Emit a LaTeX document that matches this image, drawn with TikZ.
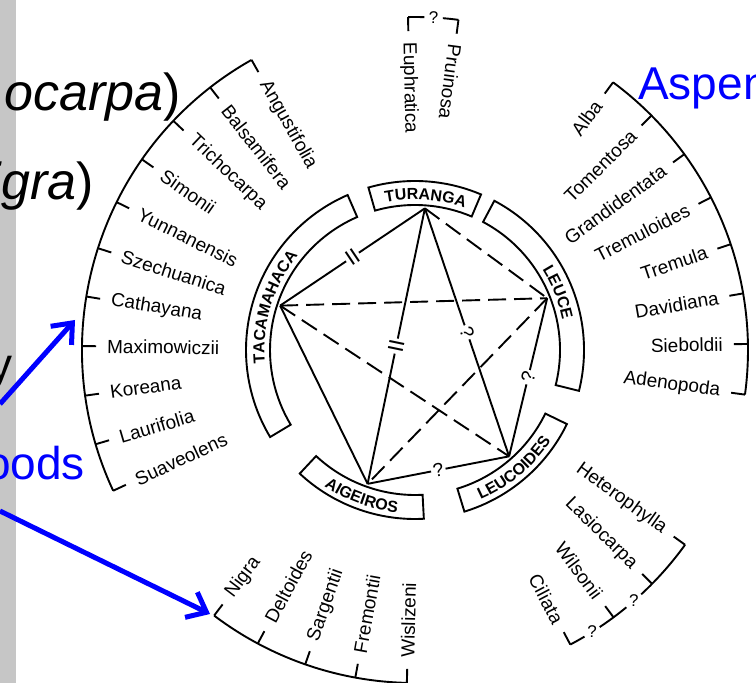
\documentclass[tikz,border=0pt]{standalone}
\usepackage{fontspec}
\setmainfont{Liberation Sans}
\usetikzlibrary{decorations.text,arrows.meta}
\definecolor{slideblue}{RGB}{0,0,255}
\definecolor{bark}{RGB}{198,198,198}
\newcommand\boxfont{\fontsize{16}{17}\selectfont\bfseries}
\begin{document}
\begin{tikzpicture}[x=1pt,y=1pt,
  ln/.style={line width=1.9pt},
  br/.style={line width=1.9pt},
  lab/.style={font=\fontsize{19}{20}\selectfont, inner sep=0pt},
  qmark/.style={font=\fontsize{19}{20}\selectfont, inner sep=2pt, fill=white},
  eqmark/.style={font=\fontsize{22}{23}\selectfont, inner sep=1.5pt, fill=white},
  qq/.style={font=\fontsize{17}{18}\selectfont, inner sep=0pt},
  dsh/.style={line width=1.9pt, dash pattern=on 18pt off 8pt},
  big/.style={font=\fontsize{46}{50}\selectfont, inner sep=0pt},
  bigger/.style={font=\fontsize{52}{56}\selectfont, inner sep=0pt},
  barrow/.style={slideblue, line width=5pt, -{Straight Barb[length=17pt,width=28pt]}}
]
\useasboundingbox (0,0) rectangle (756,683);
\clip (0,0) rectangle (756,683);
\fill[bark] (0,0) rectangle (16,683);

\begin{scope}[shift={(415,333)}]
% ---- section boxes
\draw[br] (67:145) arc[start angle=67,end angle=106,radius=145] -- (106:169) arc[start angle=106,end angle=67,radius=169] -- cycle;
\draw[br] (-14:145) arc[start angle=-14,end angle=62,radius=145] -- (62:169) arc[start angle=62,end angle=-14,radius=169] -- cycle;
\draw[br] (-73:145) arc[start angle=-73,end angle=-26,radius=145] -- (-26:169) arc[start angle=-26,end angle=-73,radius=169] -- cycle;
\draw[br] (-133:145) arc[start angle=-133,end angle=-87,radius=145] -- (-87:169) arc[start angle=-87,end angle=-133,radius=169] -- cycle;
\draw[br] (113.5:145) arc[start angle=113.5,end angle=211,radius=145] -- (211:169) arc[start angle=211,end angle=113.5,radius=169] -- cycle;
% ---- box labels
\path[decorate,decoration={text along path,text align=center,text={|\boxfont|TURANGA}}] (100:150.5) arc[start angle=100,end angle=72,radius=150.5];
\path[decorate,decoration={text along path,text align=center,text={|\boxfont|LEUCE}}] (50:150.5) arc[start angle=50,end angle=-6,radius=150.5];
\path[decorate,decoration={text along path,text align=center,text={|\boxfont|TACAMAHACA}}] (200:150.5) arc[start angle=200,end angle=126,radius=150.5];
\path[decorate,decoration={text along path,text align=center,text={|\boxfont|AIGEIROS}}] (-135:163.5) arc[start angle=-135,end angle=-85,radius=163.5];
\path[decorate,decoration={text along path,text align=center,text={|\boxfont|LEUCOIDES}}] (-75:163.5) arc[start angle=-75,end angle=-25,radius=163.5];
% ---- vertices
\coordinate (vT) at (86:142);
\coordinate (vL) at (21.4:142);
\coordinate (vD) at (-48.5:142);
\coordinate (vA) at (-109.5:142);
\coordinate (vC) at (161.8:142);
% ---- connectors
\draw[ln] (vT) -- node[eqmark,sloped] (m1) {II} (vC);
\draw[ln] (vT) -- node[eqmark,sloped] (m2) {II} (vA);
\draw[ln] (vT) -- node[qmark,sloped] (m3) {?} (vD);
\draw[dsh] (vT) -- (vL);
\draw[dsh] (vC) -- (vL);
\draw[dsh] (vC) -- (vD);
\draw[ln] (vC) -- (vA);
\draw[dsh] (vL) -- (vA);
\draw[ln] (vL) -- node[qmark,sloped] (m4) {?} (vD);
\draw[ln] (vA) -- node[qmark,sloped] (m5) {?} (vD);
% ---- left bracket (Tacamahaca)
\draw[br] (119.4:333) arc[start angle=119.4,end angle=205,radius=333];
\foreach \n [count=\i from 0] in {Angustifolia,Balsamifera,Trichocarpa,Simonii,Yunnanensis,Szechuanica,Cathayana,Maximowiczii,Koreana,Laurifolia,Suaveolens}{
  \pgfmathsetmacro\a{119.4+8.56*\i}
  \pgfmathsetmacro\r{\a+180}
  \draw[br] (\a:333) -- (\a:319);
  \node[lab,anchor=west,rotate=\r] (tc\i) at (\a:308) {\n};
}
% ---- right bracket (Leuce)
\draw[br] (53.5:333) arc[start angle=53.5,end angle=-7.7,radius=333];
\foreach \n [count=\i from 0] in {Alba,Tomentosa,Grandidentata,Tremuloides,Tremula,Davidiana,Sieboldii,Adenopoda}{
  \pgfmathsetmacro\a{53.5-8.743*\i}
  \draw[br] (\a:333) -- (\a:319);
  \node[lab,anchor=east,rotate=\a] (le\i) at (\a:308) {\n};
}
% ---- bottom bracket (Aigeiros)
\draw[br] (-127.1:333) arc[start angle=-127.1,end angle=-91.4,radius=333];
\foreach \n [count=\i from 0] in {Nigra,Deltoides,Sargentii,Fremontii,Wislizeni}{
  \pgfmathsetmacro\a{-127.1+8.925*\i}
  \pgfmathsetmacro\r{\a+180}
  \draw[br] (\a:333) -- (\a:319);
  \node[lab,anchor=west,rotate=\r] (ai\i) at (\a:308) {\n};
}
% ---- Leucoides bracket
\draw[br] (-35.8:333) arc[start angle=-35.8,end angle=-47.2,radius=333];
\draw[br] (-50.6:333) arc[start angle=-50.6,end angle=-56.3,radius=333];
\draw[br] (-59.4:333) arc[start angle=-59.4,end angle=-62.2,radius=333];
\node[qq] (qd1) at (-48.9:333) {?};
\node[qq] (qd2) at (-57.85:333) {?};
\foreach \n [count=\i from 0] in {Heterophylla,Lasiocarpa,Wilsonii,Ciliata}{
  \pgfmathsetmacro\a{-35.8-8.8*\i}
  \draw[br] (\a:333) -- (\a:319);
  \node[lab,anchor=east,rotate=\a] (ld\i) at (\a:308) {\n};
}
% ---- Turanga bracket
\draw[br] (91.2:333) arc[start angle=91.2,end angle=88.4,radius=333];
\draw[br] (85.2:333) arc[start angle=85.2,end angle=82.5,radius=333];
\node[qq] (qt) at (86.8:333) {?};
\foreach \n/\a in {Euphratica/91.2,Pruinosa/82.5}{
  \pgfmathsetmacro\r{\a+180}
  \draw[br] (\a:333) -- (\a:319);
  \node[lab,anchor=west,rotate=\r] (tu\n) at (\a:308) {\n};
}
\end{scope}

% ---- slide overlay
\node[bigger,anchor=base east] (t1) at (181,572) {\textit{ocarpa})};
\node[bigger,anchor=base east] (t2) at (94,483) {\textit{igra})};
\node[big,anchor=base east] (t3) at (13,302) {y};
\node[big,anchor=base east,text=slideblue] (t4) at (85,203) {oods};
\node[big,anchor=base west,text=slideblue] (t5) at (638,583) {Aspen};
\coordinate (a1s) at (0,279);
\coordinate (a1e) at (75,363);
\draw[barrow] (a1s) -- (a1e);
\coordinate (a2s) at (0,172);
\coordinate (a2e) at (210,69);
\draw[barrow] (a2s) -- (a2e);
\end{tikzpicture}
\end{document}
